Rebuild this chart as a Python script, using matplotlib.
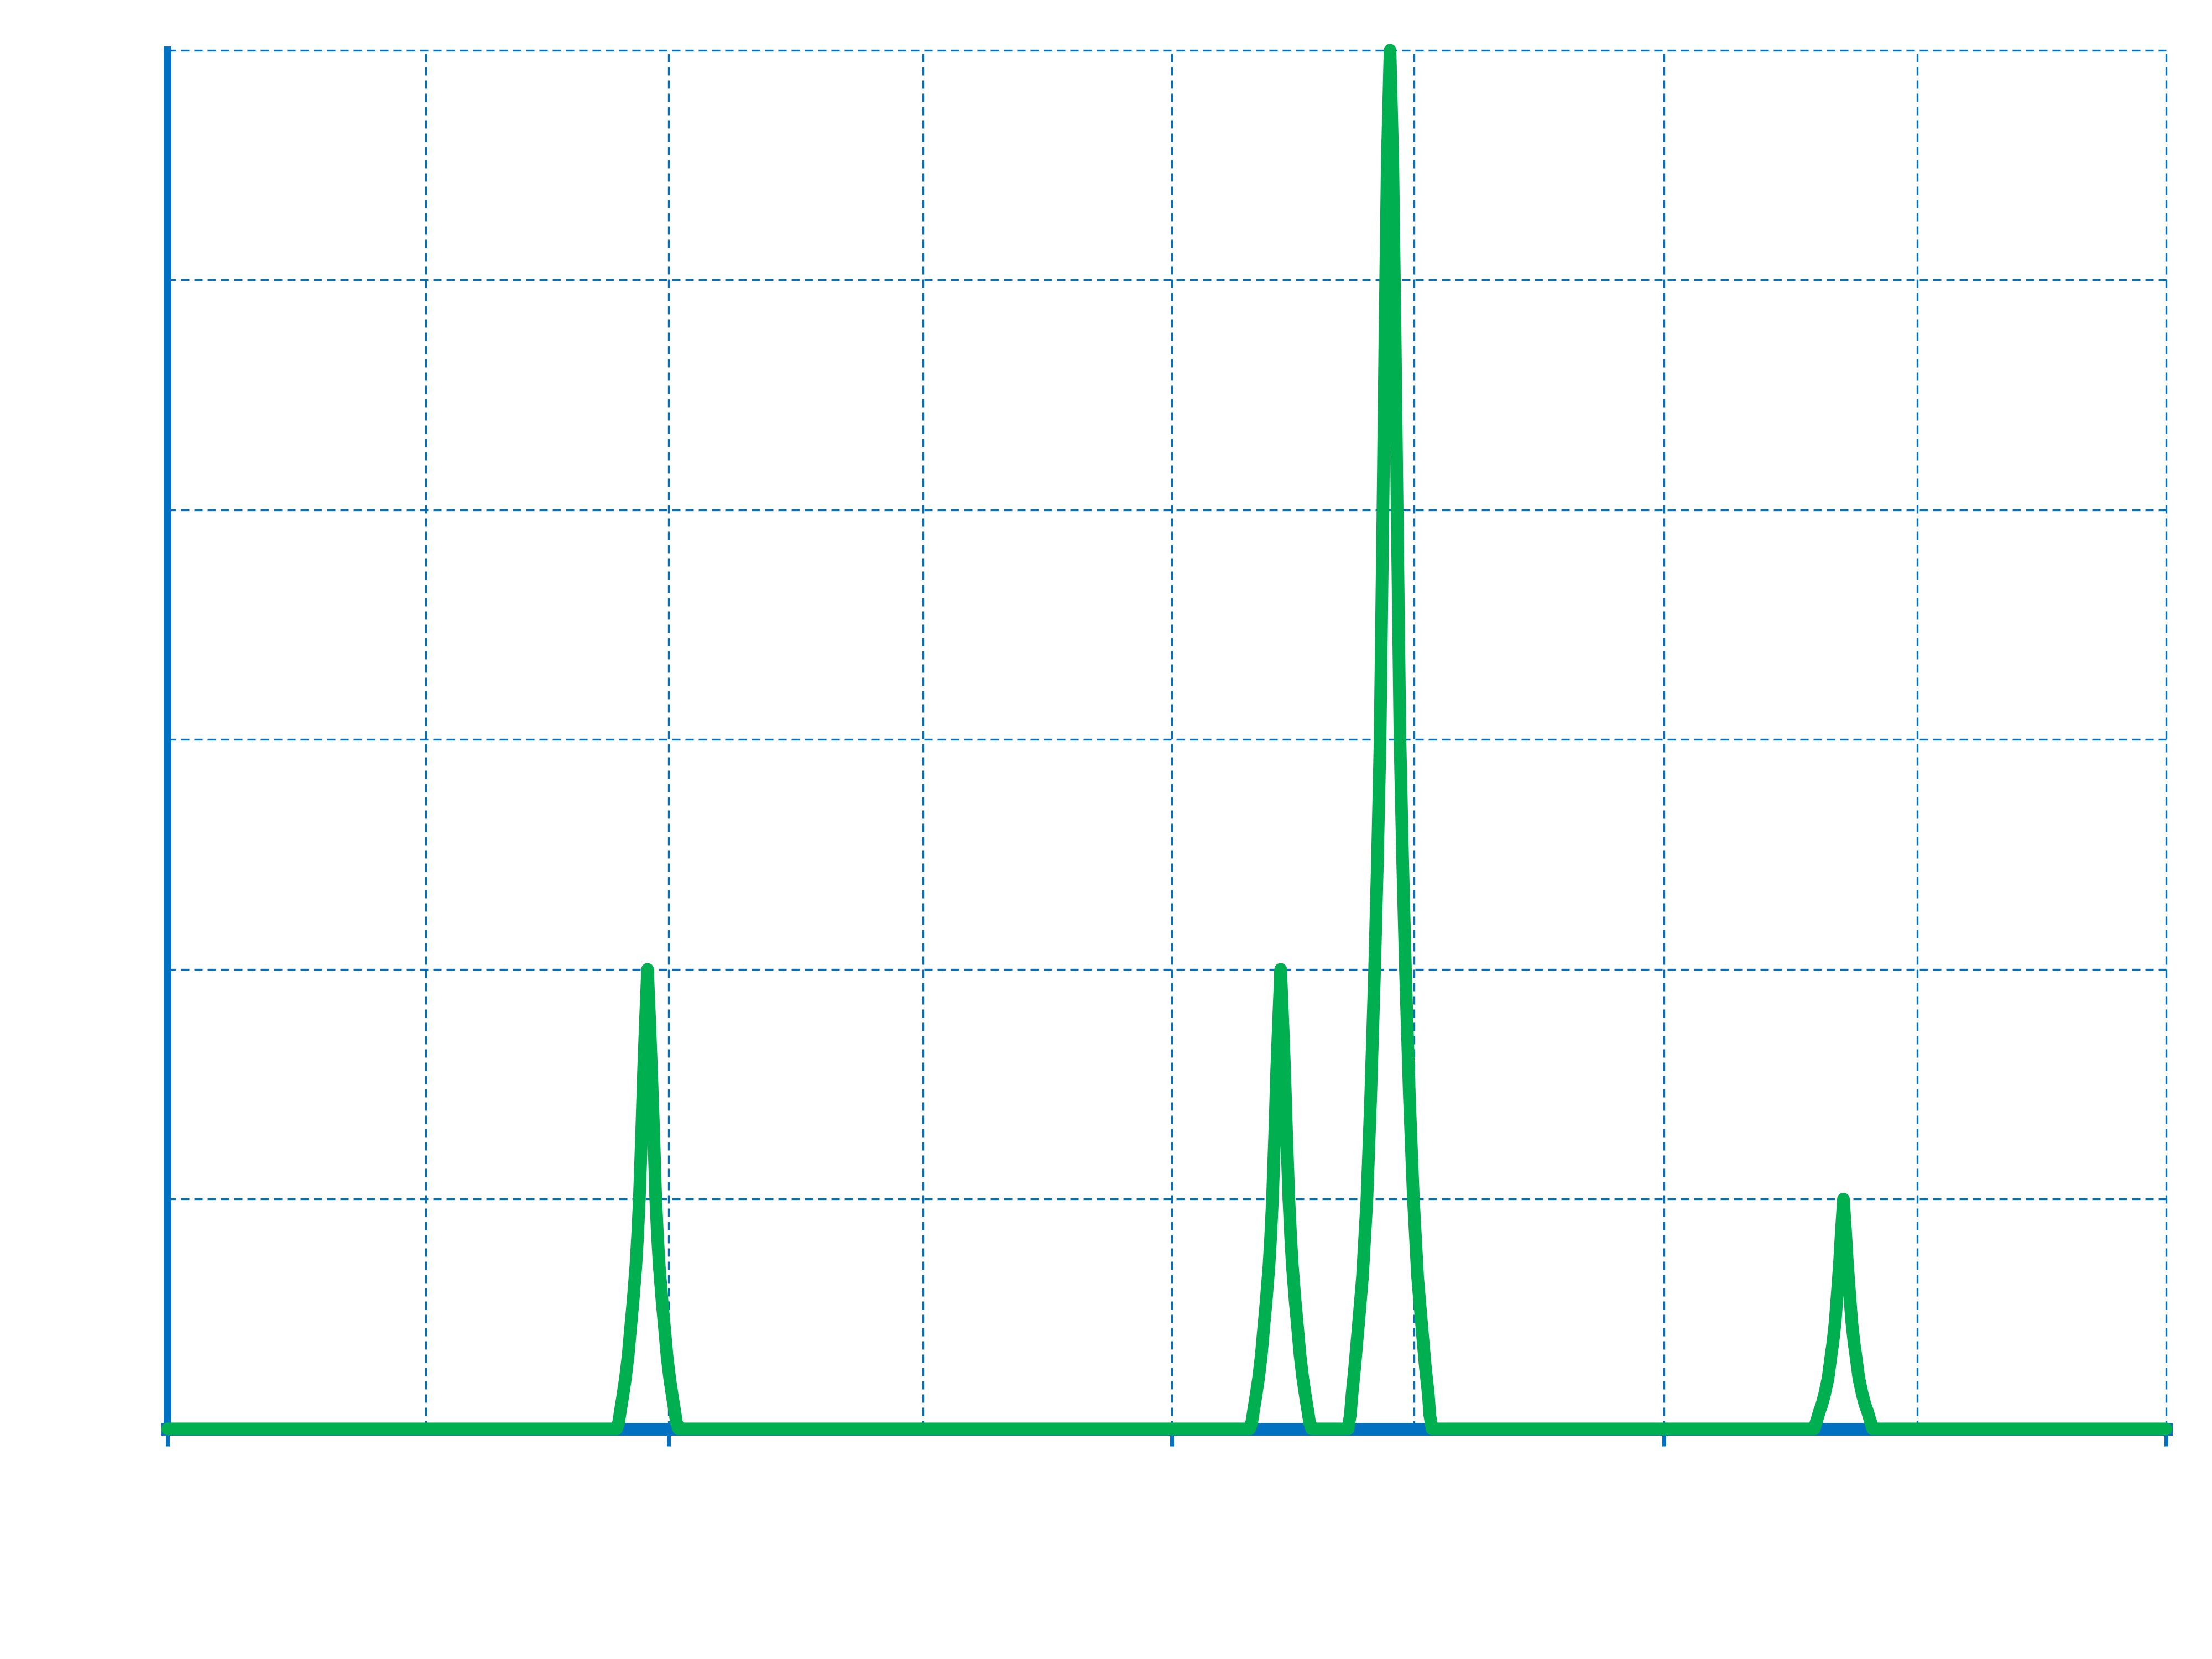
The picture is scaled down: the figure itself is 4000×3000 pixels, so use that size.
import matplotlib
matplotlib.use("Agg")
import matplotlib.pyplot as plt

# ---- data ----
signal_x = [-0.04,
            # peak 1 (height 2)
            1.766, 1.775, 1.782, 1.791, 1.802, 1.813, 1.822, 1.833, 1.844, 1.851,
            1.858, 1.867, 1.875, 1.882, 1.891,
            1.900, 1.907, 1.916, 1.924, 1.931, 1.938, 1.949, 1.960, 1.969,
            1.980, 1.991, 2.000, 2.007, 2.016,
            # peak 2 (height 2)
            4.313, 4.322, 4.329, 4.338, 4.349, 4.360, 4.369, 4.380, 4.391, 4.398,
            4.405, 4.414, 4.422, 4.429, 4.438,
            4.447, 4.454, 4.462, 4.471, 4.478, 4.485, 4.496, 4.507, 4.516,
            4.527, 4.538, 4.547, 4.554, 4.563,
            # peak 3 (height 6)
            4.709, 4.718, 4.725, 4.736, 4.749, 4.767, 4.785, 4.800, 4.816, 4.827,
            4.838, 4.849, 4.858, 4.867, 4.878,
            4.889, 4.898, 4.907, 4.918, 4.929, 4.940, 4.956, 4.972, 4.989,
            5.007, 5.020, 5.032, 5.038, 5.047,
            # peak 4 (height 1)
            6.584, 6.591, 6.597, 6.604, 6.615, 6.626, 6.640, 6.651, 6.660, 6.669,
            6.680, 6.686, 6.693, 6.702,
            6.711, 6.718, 6.724, 6.735, 6.744, 6.753, 6.764, 6.778, 6.789,
            6.800, 6.807, 6.813, 6.820,
            8.0]
signal_y = [0,
            0, 0.03, 0.08, 0.14, 0.22, 0.32, 0.43, 0.56, 0.71, 0.84,
            1.00, 1.28, 1.56, 1.76, 2.00,
            1.76, 1.56, 1.28, 1.00, 0.84, 0.71, 0.56, 0.43, 0.32,
            0.22, 0.14, 0.08, 0.03, 0,
            0, 0.03, 0.08, 0.14, 0.22, 0.32, 0.43, 0.56, 0.71, 0.84,
            1.00, 1.28, 1.56, 1.76, 2.00,
            1.76, 1.56, 1.28, 1.00, 0.84, 0.71, 0.56, 0.43, 0.32,
            0.22, 0.14, 0.08, 0.03, 0,
            0, 0.06, 0.15, 0.27, 0.43, 0.66, 1.00, 1.44, 2.00, 2.46,
            3.00, 3.96, 4.80, 5.52, 6.00,
            5.52, 4.80, 3.96, 3.00, 2.46, 2.00, 1.44, 1.00, 0.66,
            0.43, 0.27, 0.15, 0.06, 0,
            0, 0.025, 0.045, 0.072, 0.105, 0.15, 0.22, 0.31, 0.38, 0.47,
            0.63, 0.72, 0.85, 1.00,
            0.85, 0.72, 0.63, 0.47, 0.38, 0.31, 0.22, 0.15, 0.105,
            0.072, 0.045, 0.025, 0,
            0]

x_major_ticks = [-0.04, 1.976, 4, 5.98, 8]
x_minor_grid = [1, 3, 4.975, 7]
y_grid = [0, 1, 2, 3, 4, 5, 6]

BLUE = "#0070C0"
GREEN = "#00B050"

fig = plt.figure(figsize=(40, 30), dpi=100)
ax = fig.add_axes([0.07575, 0.1387, 0.9035, 0.831])

ax.plot(signal_x, signal_y, color=GREEN, linewidth=16.5,
        solid_capstyle="round", solid_joinstyle="round",
        zorder=5, clip_on=False)

ax.set_xlim(min(signal_x), max(signal_x))
ax.set_ylim(0, 6)

ax.set_xticks(x_major_ticks)
ax.set_xticks(x_minor_grid, minor=True)
ax.set_yticks(y_grid)

grid_kw = dict(color=BLUE, linewidth=2.4, linestyle=(0, (4.5, 2.7)))
ax.grid(True, which="major", axis="both", **grid_kw)
ax.grid(True, which="minor", axis="x", **grid_kw)
ax.set_axisbelow(True)
for gl in ax.get_xgridlines() + ax.get_ygridlines():
    gl.set_clip_on(False)
for t in ax.xaxis.get_minor_ticks():
    t.gridline.set_clip_on(False)

ax.tick_params(axis="x", which="major", direction="out", length=22,
               width=5, color=BLUE, labelbottom=False)
ax.tick_params(axis="x", which="minor", length=0, labelbottom=False)
ax.tick_params(axis="y", which="both", length=0, labelleft=False)

for side in ["top", "right"]:
    ax.spines[side].set_visible(False)
ax.spines["left"].set_color(BLUE)
ax.spines["left"].set_linewidth(10)
ax.spines["bottom"].set_color(BLUE)
ax.spines["bottom"].set_linewidth(16.5)

fig.savefig("out.png", dpi=100, facecolor="white")
